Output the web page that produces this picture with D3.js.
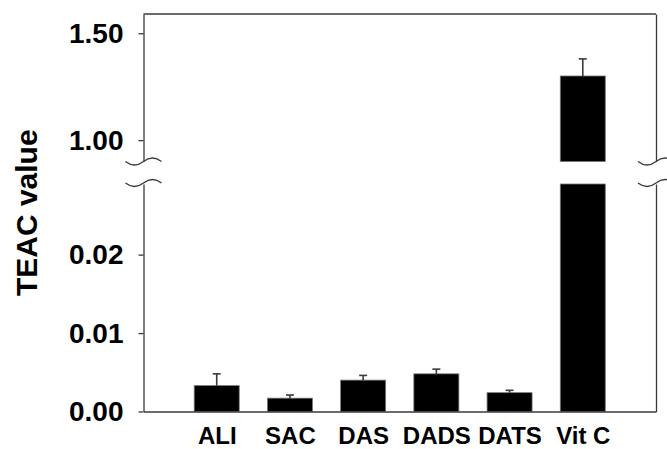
<!DOCTYPE html>
<html>
<head>
<meta charset="utf-8">
<script src="https://cdn.jsdelivr.net/npm/d3@7"></script>
<style>
  html, body { margin: 0; padding: 0; background: #fff; }
  text { font-family: 'Liberation Sans', Arial, sans-serif; font-weight: bold; fill: #000; }
</style>
</head>
<body>
<div id="chart"></div>
<script>
// Data
const categories = ['ALI', 'SAC', 'DAS', 'DADS', 'DATS', 'Vit C']
const teacValues = [0.0033, 0.0017, 0.0040, 0.0048, 0.0024, 1.30]
const teacErrors = [0.0015, 0.0004, 0.0006, 0.0006, 0.0003, 0.08]
const lowerTicks = [0, 0.01, 0.02]
const upperTicks = [1.0, 1.5]
const lowerDomain = [0, 0.029]
const upperDomain = [0.9, 1.59]
const yTitle = 'TEAC value'

const createBrokenBarChart = (svgId) => {
  // Const variables
  const width = 667
  const height = 449
  const margin = { top: 14, left: 143.5, right: 11, bottom: 37.5 }
  const breakTop = 161.5
  const breakBottom = 184
  const barWidth = 45
  const capWidth = 8
  const axisColor = '#3a3a3a'

  const svg = d3.select(svgId)
    .append('svg')
      .attr('width', width)
      .attr('height', height)

  // Scales
  const x = d3.scalePoint()
    .domain(categories)
    .range([margin.left, width - margin.right])
    .padding(1)

  const yLow = d3.scaleLinear()
    .domain(lowerDomain)
    .range([height - margin.bottom, breakBottom])

  const yHigh = d3.scaleLinear()
    .domain(upperDomain)
    .range([breakTop, margin.top])

  const rows = categories.map((c, i) => ({ name: c, value: teacValues[i], err: teacErrors[i] }))

  // Bars
  const bars = svg.append('g')
  rows.forEach(d => {
    const x0 = x(d.name) - barWidth / 2
    if (d.value <= lowerDomain[1]) {
      bars.append('rect')
        .attr('x', x0)
        .attr('y', yLow(d.value))
        .attr('width', barWidth)
        .attr('height', yLow(0) - yLow(d.value))
    } else {
      bars.append('rect')
        .attr('x', x0)
        .attr('y', yLow(lowerDomain[1]))
        .attr('width', barWidth)
        .attr('height', yLow(0) - yLow(lowerDomain[1]))
      bars.append('rect')
        .attr('x', x0)
        .attr('y', yHigh(d.value))
        .attr('width', barWidth)
        .attr('height', yHigh(upperDomain[0]) - yHigh(d.value))
    }
  })
  bars.selectAll('rect')
    .attr('fill', '#000')
    .attr('stroke', '#777')
    .attr('stroke-width', 0.8)

  // Error bars (upper side only)
  const errs = svg.append('g')
    .attr('stroke', axisColor)
    .attr('stroke-width', 1.6)
  rows.forEach(d => {
    const y = d.value <= lowerDomain[1] ? yLow : yHigh
    const cx = x(d.name)
    errs.append('line')
      .attr('x1', cx).attr('x2', cx)
      .attr('y1', y(d.value)).attr('y2', y(d.value + d.err))
    errs.append('line')
      .attr('x1', cx - capWidth / 2).attr('x2', cx + capWidth / 2)
      .attr('y1', y(d.value + d.err)).attr('y2', y(d.value + d.err))
  })

  // Axes
  const styleAxis = g => {
    g.selectAll('.domain, line').attr('stroke', axisColor).attr('stroke-width', 1.3)
    g.selectAll('text').attr('font-size', 28).attr('font-family', null)
  }

  svg.append('g')
    .attr('transform', `translate(${margin.left},0)`)
    .call(d3.axisLeft(yLow).tickValues(lowerTicks).tickFormat(d3.format('.2f'))
      .tickSize(5).tickSizeOuter(0).tickPadding(15))
    .call(styleAxis)

  svg.append('g')
    .attr('transform', `translate(${margin.left},0)`)
    .call(d3.axisLeft(yHigh).tickValues(upperTicks).tickFormat(d3.format('.2f'))
      .tickSize(5).tickSizeOuter(0).tickPadding(15))
    .call(styleAxis)

  const right = width - margin.right
  svg.append('g')
    .attr('transform', `translate(${right},0)`)
    .call(d3.axisRight(yLow).tickValues([]).tickSizeOuter(0))
    .call(styleAxis)
  svg.append('g')
    .attr('transform', `translate(${right},0)`)
    .call(d3.axisRight(yHigh).tickValues([]).tickSizeOuter(0))
    .call(styleAxis)

  svg.append('g')
    .attr('transform', `translate(0,${yLow(0)})`)
    .call(d3.axisBottom(x).tickSize(0).tickSizeOuter(0).tickPadding(15))
    .call(styleAxis)
    .call(g => g.selectAll('text').attr('font-size', 24))

  // Top frame line
  svg.append('line')
    .attr('x1', margin.left).attr('x2', right)
    .attr('y1', margin.top).attr('y2', margin.top)
    .attr('stroke', axisColor)
    .attr('stroke-width', 1.3)

  // Break marks on both side axes
  const wave = (cx, cy) => `M${cx - 18},${cy} Q${cx - 9},${cy + 7} ${cx},${cy} Q${cx + 9},${cy - 7} ${cx + 18},${cy}`
  ;[margin.left, right].forEach(cx => {
    ;[breakTop, breakBottom - 1].forEach(cy => {
      svg.append('path')
        .attr('d', wave(cx, cy))
        .attr('fill', 'none')
        .attr('stroke', axisColor)
        .attr('stroke-width', 1.3)
    })
  })

  // Y title
  svg.append('text')
    .attr('transform', `translate(37,${(margin.top + yLow(0)) / 2}) rotate(-90)`)
    .attr('text-anchor', 'middle')
    .attr('font-size', 30)
    .text(yTitle)
}

createBrokenBarChart('#chart')
</script>
</body>
</html>
